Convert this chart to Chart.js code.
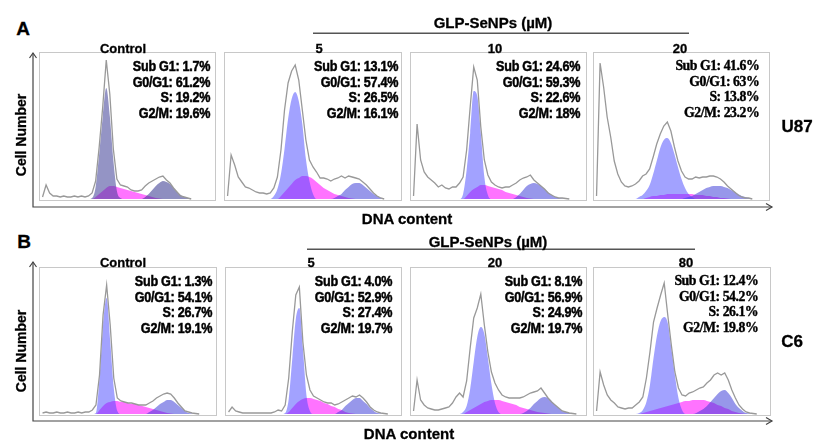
<!DOCTYPE html>
<html>
<head>
<meta charset="utf-8">
<script src="https://cdn.jsdelivr.net/npm/chart.js@4.4.1/dist/chart.umd.min.js"></script>
<style>
  body { margin: 0; background: #fff; }
  #fig { position: relative; width: 814px; height: 440px; background: #fff; overflow: hidden;
         font-family: "Liberation Sans", Arial, sans-serif; font-weight: bold; color: #000; }
  .t { position: absolute; white-space: nowrap; transform: translate(-50%, -50%); -webkit-text-stroke: 0.3px #000; }
  .box { position: absolute; border: 1px solid #c8c8c8; box-sizing: border-box; pointer-events: none; }
  .plot { position: absolute; }
  .stat { position: absolute; white-space: nowrap; text-align: right;
          font-family: "Liberation Sans", Arial, sans-serif;
          font-size: 15px; line-height: 15.5px; letter-spacing: -0.3px;
          transform: scaleX(0.84); transform-origin: right top; -webkit-text-stroke: 0.5px #000; }
  .stat.serif { font-family: "Liberation Serif", "Times New Roman", serif; font-size: 14.5px;
                letter-spacing: -0.5px; transform: scaleX(0.95); -webkit-text-stroke: 0.4px #000; }
</style>
</head>
<body>
<div id="fig">
  <svg width="814" height="440" style="position:absolute;left:0;top:0">
    <g stroke="#444" stroke-width="1.2" fill="none">
      <path d="M33 53 V207 H772" />
      <path d="M29.5 58 L33 53 L36.5 58" />
      <path d="M766 203.5 L772 207 L766 210.5" />
      <path d="M33 262 V421 H772" />
      <path d="M29.5 267 L33 262 L36.5 267" />
      <path d="M766 417.5 L772 421 L766 424.5" />
    </g>
    <g stroke="#555" stroke-width="1.5">
      <line x1="313" y1="33.3" x2="689" y2="33.3" />
      <line x1="307" y1="249.3" x2="695" y2="249.3" />
    </g>
  </svg>
</div>
<script>
// DNA content channels (x axis of every histogram)
const channels = [0, 4, 8, 12, 16, 20, 24, 28, 32, 36, 40, 44, 48, 52, 56, 60, 64, 68, 72, 76,
  80, 84, 88, 92, 96, 100, 104, 108, 112, 116, 120, 124, 128, 132, 136, 140, 144, 148, 152, 156,
  160, 164, 168, 172, 176, 180, 184, 188, 192, 196, 200];

const cellLines = ["U87", "C6"];
const rowA = ["Control", "5", "10", "20"];
const rowB = ["Control", "5", "20", "80"];

// percentages printed in each panel (A1..A4, B1..B4)
const subG1 = ["1.7", "13.1", "24.6", "41.6", "1.3", "4.0", "8.1", "12.4"];
const g0g1 = ["61.2", "57.4", "59.3", "63", "54.1", "52.9", "56.9", "54.2"];
const sPct = ["19.2", "26.5", "22.6", "13.8", "26.7", "27.4", "24.9", "26.1"];
const g2m = ["19.6", "16.1", "18", "23.2", "19.1", "19.7", "19.7", "19.8"];

// raw histograms (cell counts per channel)
const rawA1 = [null, 2, 14, 6, 3, 3, 2, 3, 2, 2, 3, 2, 3, 2, 3, 6, 18, 52, 92, 139,
  105, 50, 20, 14, 13, 12, 9, 8, 8, 9, 13, 16, 18, 20, 22, 23, 19, 16, 11, 7,
  3, 2, 1, 0, null, null, null, null, null, null, null];
const rawA2 = [null, 3, 44, 34, 22, 17, 12, 11, 9, 7, 6, 6, 5, 6, 11, 22, 49, 89, 116, 128,
  134, 119, 89, 59, 39, 32, 27, 21, 21, 20, 18, 20, 21, 23, 21, 23, 22, 21, 20, 17,
  14, 10, 6, 3, 1, 0, null, null, null, null, null];
const rawA3 = [null, 3, 75, 39, 27, 22, 19, 16, 12, 14, 11, 10, 12, 12, 16, 22, 49, 92, 132, 119,
  72, 39, 24, 17, 14, 12, 11, 12, 12, 14, 16, 19, 21, 22, 24, 19, 16, 13, 10, 6,
  4, 2, 1, 1, 0.5, 0, null, null, null, null, null];
const rawA4 = [null, 3, 136, 112, 82, 62, 38, 25, 17, 13, 12, 13, 15, 18, 23, 25, 30, 42, 55, 65,
  73, 77, 68, 52, 38, 28, 22, 20, 20, 22, 21, 22, 22, 23, 23, 22, 20, 17, 13, 10,
  7, 4, 2, 1, 1, 0, null, null, null, null, null];
const rawB1 = [null, 1, 2, 1, 1, 2, 1, 1, 2, 1, 1, 2, 1, 2, 2, 4, 9, 39, 99, 129,
  89, 36, 16, 13, 12, 11, 11, 10, 9, 9, 9, 11, 13, 16, 18, 20, 21, 20, 16, 11,
  7, 3, 2, 1, 0.5, 0, null, null, null, null, null];
const rawB2 = [null, 2, 7, 3, 2, 1, 1, 1, 1, 1, 1, 1, 1, 1, 2, 4, 3, 9, 36, 82,
  119, 127, 72, 39, 24, 18, 16, 14, 12, 11, 11, 9, 10, 12, 14, 16, 18, 17, 19, 16,
  12, 7, 4, 2, 1, 0.5, 0, null, null, null, null];
const rawB3 = [null, 3, 34, 14, 9, 6, 5, 4, 4, 5, 6, 7, 11, 17, 21, 17, 33, 66, 96, 106,
  120, 89, 62, 42, 31, 24, 19, 17, 16, 16, 16, 16, 17, 19, 21, 22, 23, 26, 21, 16,
  12, 9, 6, 3, 2, 1, 0.5, 0, null, null, null];
const rawB4 = [null, 3, 42, 29, 19, 14, 11, 7, 6, 5, 6, 6, 9, 12, 17, 36, 62, 92, 106, 119,
  131, 99, 69, 42, 26, 19, 18, 21, 22, 24, 26, 27, 31, 34, 39, 41, 39, 41, 34, 24,
  16, 9, 5, 2, 1, 0.5, 0, null, null, null, null];

// fitted G0/G1 peaks
const g1A1 = [0, 0, 0, 0, 0, 0, 0, 0, 0, 0, 0, 0, 0, 0, 0, 1, 12, 45, 82, 111,
  83, 39, 8, 1, 0, 0, 0, 0, 0, 0, 0, 0, 0, 0, 0, 0, 0, 0, 0, 0,
  0, 0, 0, 0, 0, 0, 0, 0, 0, 0, 0];
const g1A2 = [0, 0, 0, 0, 0, 0, 0, 0, 0, 0, 0, 0, 0, 0, 3, 10, 25, 50, 80, 100,
  107, 98, 75, 40, 18, 5, 0, 0, 0, 0, 0, 0, 0, 0, 0, 0, 0, 0, 0, 0,
  0, 0, 0, 0, 0, 0, 0, 0, 0, 0, 0];
const g1A3 = [0, 0, 0, 0, 0, 0, 0, 0, 0, 0, 0, 0, 0, 0, 0, 5, 29, 66, 108, 103,
  66, 22, 4, 0, 0, 0, 0, 0, 0, 0, 0, 0, 0, 0, 0, 0, 0, 0, 0, 0,
  0, 0, 0, 0, 0, 0, 0, 0, 0, 0, 0];
const g1A4 = [0, 0, 0, 0, 0, 0, 0, 0, 0, 0, 0, 0, 0, 2, 4, 8, 14, 25, 38, 51,
  59, 61, 56, 45, 32, 20, 11, 5, 2, 0, 0, 0, 0, 0, 0, 0, 0, 0, 0, 0,
  0, 0, 0, 0, 0, 0, 0, 0, 0, 0, 0];
const g1B1 = [0, 0, 0, 0, 0, 0, 0, 0, 0, 0, 0, 0, 0, 0, 0, 0, 1, 36, 89, 116,
  73, 26, 3, 0, 0, 0, 0, 0, 0, 0, 0, 0, 0, 0, 0, 0, 0, 0, 0, 0,
  0, 0, 0, 0, 0, 0, 0, 0, 0, 0, 0];
const g1B2 = [0, 0, 0, 0, 0, 0, 0, 0, 0, 0, 0, 0, 0, 0, 0, 0, 0, 1, 15, 55,
  95, 106, 66, 19, 3, 0, 0, 0, 0, 0, 0, 0, 0, 0, 0, 0, 0, 0, 0, 0,
  0, 0, 0, 0, 0, 0, 0, 0, 0, 0, 0];
const g1B3 = [0, 0, 0, 0, 0, 0, 0, 0, 0, 0, 0, 0, 0, 0, 0, 2, 8, 25, 52, 77,
  87, 80, 56, 30, 11, 2, 0, 0, 0, 0, 0, 0, 0, 0, 0, 0, 0, 0, 0, 0,
  0, 0, 0, 0, 0, 0, 0, 0, 0, 0, 0];
const g1B4 = [0, 0, 0, 0, 0, 0, 0, 0, 0, 0, 0, 0, 0, 1, 4, 12, 29, 56, 79, 93,
  97, 91, 66, 39, 16, 4, 0, 0, 0, 0, 0, 0, 0, 0, 0, 0, 0, 0, 0, 0,
  0, 0, 0, 0, 0, 0, 0, 0, 0, 0, 0];

// fitted S phase
const sA1 = [0, 0, 0, 0, 0, 0, 0, 0, 0, 0, 0, 0, 0, 0, 0, 0, 2, 5, 8, 11,
  13, 13, 12, 11, 10, 9, 8, 7, 6, 5, 4, 3, 2, 1, 0.5, 0, 0, 0, 0, 0,
  0, 0, 0, 0, 0, 0, 0, 0, 0, 0, 0];
const sA2 = [0, 0, 0, 0, 0, 0, 0, 0, 0, 0, 0, 0, 0, 0, 0, 0, 3, 7, 11, 15,
  19, 21, 23, 23, 22, 20, 17, 14, 11, 9, 7, 5, 4, 3, 2, 1, 0.5, 0, 0, 0,
  0, 0, 0, 0, 0, 0, 0, 0, 0, 0, 0];
const sA3 = [0, 0, 0, 0, 0, 0, 0, 0, 0, 0, 0, 0, 0, 0, 0, 0, 3, 7, 10, 12,
  14, 14, 13, 12, 11, 10, 9, 7, 6, 5, 4, 3, 2, 1, 0.5, 0, 0, 0, 0, 0,
  0, 0, 0, 0, 0, 0, 0, 0, 0, 0, 0];
const sA4 = [0, 0, 0, 0, 0, 0, 0, 0, 0, 0, 0, 0, 0, 0, 0, 1, 2, 3, 3, 4,
  4, 5, 5, 5, 5, 5, 5, 5, 5, 4, 4, 4, 3, 3, 2, 2, 1, 1, 0.5, 0,
  0, 0, 0, 0, 0, 0, 0, 0, 0, 0, 0];
const sB1 = [0, 0, 0, 0, 0, 0, 0, 0, 0, 0, 0, 0, 0, 0, 0, 0, 0, 4, 8, 11,
  12, 13, 13, 12, 12, 11, 10, 10, 9, 8, 7, 6, 5, 4, 3, 2, 1, 0.5, 0, 0,
  0, 0, 0, 0, 0, 0, 0, 0, 0, 0, 0];
const sB2 = [0, 0, 0, 0, 0, 0, 0, 0, 0, 0, 0, 0, 0, 0, 0, 0, 0, 0, 2, 6,
  10, 13, 15, 16, 16, 15, 14, 13, 11, 10, 8, 7, 5, 4, 2, 1, 0.5, 0, 0, 0,
  0, 0, 0, 0, 0, 0, 0, 0, 0, 0, 0];
const sB3 = [0, 0, 0, 0, 0, 0, 0, 0, 0, 0, 0, 0, 0, 0, 0, 0, 2, 4, 6, 8,
  10, 12, 13, 14, 14, 14, 13, 12, 11, 10, 9, 7, 6, 5, 4, 3, 2, 1.5, 1, 0.5,
  0, 0, 0, 0, 0, 0, 0, 0, 0, 0, 0];
const sB4 = [0, 0, 0, 0, 0, 0, 0, 0, 0, 0, 0, 0, 0, 0, 1, 2, 3, 4, 5, 6,
  7, 8, 9, 10, 11, 12, 13, 13, 14, 14, 14, 14, 13, 12, 11, 9, 8, 6, 5, 3,
  2, 1, 0.5, 0, 0, 0, 0, 0, 0, 0, 0];

// fitted G2/M peaks
const g2A1 = [0, 0, 0, 0, 0, 0, 0, 0, 0, 0, 0, 0, 0, 0, 0, 0, 0, 0, 0, 0,
  0, 0, 0, 0, 0, 0, 0, 0, 0, 0, 2, 5, 9, 13, 16, 18, 17, 15, 11, 7,
  4, 2, 1, 0, 0, 0, 0, 0, 0, 0, 0];
const g2A2 = [0, 0, 0, 0, 0, 0, 0, 0, 0, 0, 0, 0, 0, 0, 0, 0, 0, 0, 0, 0,
  0, 0, 0, 0, 0, 0, 0, 0, 0, 0, 0, 1, 3, 5, 9, 12, 15, 16, 16, 14,
  11, 8, 5, 3, 1, 0, 0, 0, 0, 0, 0];
const g2A3 = [0, 0, 0, 0, 0, 0, 0, 0, 0, 0, 0, 0, 0, 0, 0, 0, 0, 0, 0, 0,
  0, 0, 0, 0, 0, 0, 0, 0, 0, 0, 2, 5, 9, 13, 15, 16, 15, 13, 10, 7,
  4, 2, 1, 0.5, 0, 0, 0, 0, 0, 0, 0];
const g2A4 = [0, 0, 0, 0, 0, 0, 0, 0, 0, 0, 0, 0, 0, 0, 0, 0, 0, 0, 0, 0,
  0, 0, 0, 0, 0, 0, 1, 2, 3, 5, 7, 9, 11, 12, 13, 13, 13, 12, 11, 9,
  7, 5, 3, 2, 1, 0, 0, 0, 0, 0, 0];
const g2B1 = [0, 0, 0, 0, 0, 0, 0, 0, 0, 0, 0, 0, 0, 0, 0, 0, 0, 0, 0, 0,
  0, 0, 0, 0, 0, 0, 0, 0, 0, 0, 0, 2, 4, 7, 10, 12, 14, 14, 12, 9,
  6, 3, 1, 0.5, 0, 0, 0, 0, 0, 0, 0];
const g2B2 = [0, 0, 0, 0, 0, 0, 0, 0, 0, 0, 0, 0, 0, 0, 0, 0, 0, 0, 0, 0,
  0, 0, 0, 0, 0, 0, 0, 0, 0, 0, 0, 0, 2, 4, 8, 11, 14, 16, 16, 13,
  10, 6, 3, 1, 0.5, 0, 0, 0, 0, 0, 0];
const g2B3 = [0, 0, 0, 0, 0, 0, 0, 0, 0, 0, 0, 0, 0, 0, 0, 0, 0, 0, 0, 0,
  0, 0, 0, 0, 0, 0, 0, 0, 0, 0, 0, 0, 1, 3, 6, 10, 13, 16, 17, 16,
  13, 9, 6, 3, 2, 1, 0, 0, 0, 0, 0];
const g2B4 = [0, 0, 0, 0, 0, 0, 0, 0, 0, 0, 0, 0, 0, 0, 0, 0, 0, 0, 0, 0,
  0, 0, 0, 0, 0, 0, 0, 0, 0, 1, 3, 5, 8, 12, 16, 20, 23, 24, 21, 16,
  10, 6, 3, 1, 0.5, 0, 0, 0, 0, 0, 0];

// panel frames on the page: [left, top, width, height]
const frames = [
  [39, 52, 177, 149], [224, 52, 178, 149], [410, 52, 177, 149], [593, 52, 177, 149],
  [39, 267, 178, 149], [225, 267, 177, 149], [410, 267, 177, 149], [593, 267, 178, 149],
];
// right edge of the percentage block in each panel
const statRight = [210, 398, 580, 759, 212, 392, 582, 758];

const raws = [rawA1, rawA2, rawA3, rawA4, rawB1, rawB2, rawB3, rawB4];
const g1s = [g1A1, g1A2, g1A3, g1A4, g1B1, g1B2, g1B3, g1B4];
const ss = [sA1, sA2, sA3, sA4, sB1, sB2, sB3, sB4];
const g2s = [g2A1, g2A2, g2A3, g2A4, g2B1, g2B2, g2B3, g2B4];

const fig = document.getElementById("fig");

function addText(txt, x, y, size, extra) {
  const d = document.createElement("div");
  d.className = "t";
  d.textContent = txt;
  d.style.left = x + "px";
  d.style.top = y + "px";
  d.style.fontSize = size + "px";
  if (extra) Object.assign(d.style, extra);
  fig.appendChild(d);
}

function points(values) {
  return values.map((v, i) => ({ x: channels[i], y: v }));
}

[...raws, ...g1s, ...ss, ...g2s].forEach((arr, k) => {
  if (arr.length !== channels.length) console.error("bad length in series " + k + ": " + arr.length);
});

frames.forEach((f, p) => {
  const canvas = document.createElement("canvas");
  canvas.className = "plot";
  canvas.width = f[2];
  canvas.height = f[3];
  canvas.style.left = f[0] + "px";
  canvas.style.top = f[1] + "px";
  fig.appendChild(canvas);

  const box = document.createElement("div");
  box.className = "box";
  Object.assign(box.style, { left: f[0] + "px", top: f[1] + "px", width: f[2] + "px", height: f[3] + "px" });
  fig.appendChild(box);

  const control = p === 0; // the U87 control panel is printed in a greyer blue
  const g1Fill = control ? "rgba(60,60,150,0.55)" : "rgba(70,70,255,0.5)";
  const g2Fill = control ? "rgba(50,50,140,0.55)" : "rgba(55,55,215,0.52)";

  new Chart(canvas, {
    type: "line",
    data: {
      datasets: [
        { data: points(raws[p]), borderColor: "#999999", borderWidth: 1.3, pointRadius: 0, fill: false, tension: 0, order: 0 },
        { data: points(g1s[p]), borderWidth: 0, backgroundColor: g1Fill, fill: "origin", pointRadius: 0,
          tension: 0.4, cubicInterpolationMode: "monotone", order: 1 },
        { data: points(g2s[p]), borderWidth: 0, backgroundColor: g2Fill, fill: "origin", pointRadius: 0,
          tension: 0.4, cubicInterpolationMode: "monotone", order: 2 },
        { data: points(ss[p]), borderWidth: 0, backgroundColor: "rgba(255,0,255,0.55)", fill: "origin", pointRadius: 0,
          tension: 0.4, cubicInterpolationMode: "monotone", order: 3 },
      ],
    },
    options: {
      responsive: false,
      animation: false,
      events: [],
      layout: { padding: 0 },
      scales: {
        x: { type: "linear", min: 0, max: 200, display: false },
        y: { min: -2, max: 147, display: false },
      },
      plugins: { legend: { display: false }, tooltip: { enabled: false } },
    },
  });

  // percentage block
  const st = document.createElement("div");
  st.className = "stat" + (p === 3 || p === 7 ? " serif" : "");
  st.style.right = (814 - statRight[p]) + "px";
  st.style.top = (f[1] + 6) + "px";
  st.innerHTML = "Sub G1: " + subG1[p] + "%<br>G0/G1: " + g0g1[p] + "%<br>S: " + sPct[p] + "%<br>G2/M: " + g2m[p] + "%";
  fig.appendChild(st);
});

// panel titles
const titleX = [123, 319, 495, 680];
const titleXB = [123, 311, 495, 686];
rowA.forEach((t, i) => addText(t, titleX[i], 47.5, 13));
rowB.forEach((t, i) => addText(t, titleXB[i], 262, 13));

addText("A", 23, 29, 19);
addText("B", 24, 242, 19);
addText("GLP-SeNPs (\u00b5M)", 493, 21.5, 15);
addText("GLP-SeNPs (\u00b5M)", 488, 241, 15);
addText(cellLines[0], 797, 127, 17);
addText(cellLines[1], 792, 342, 17);
addText("Cell Number", 20.5, 135, 14, { transform: "translate(-50%, -50%) rotate(-90deg)" });
addText("Cell Number", 20.5, 351, 14, { transform: "translate(-50%, -50%) rotate(-90deg)" });
addText("DNA content", 407, 218, 15);
addText("DNA content", 409, 433, 15);
</script>
</body>
</html>
